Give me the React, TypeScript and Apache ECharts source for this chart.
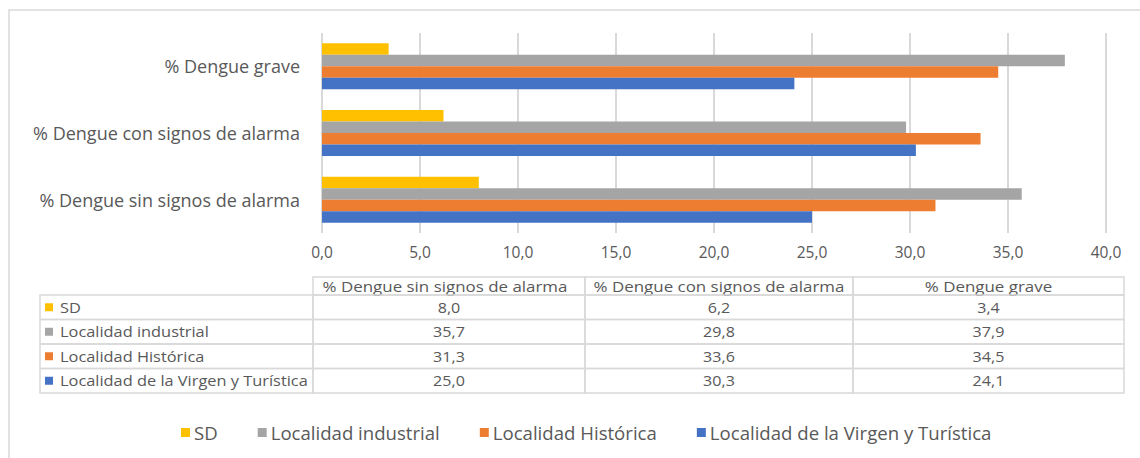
import React, { useEffect, useRef } from "react";
import * as echarts from "echarts";

const categories = [
  "% Dengue sin signos de alarma",
  "% Dengue con signos de alarma",
  "% Dengue grave",
];
const seriesNames = [
  "SD",
  "Localidad industrial",
  "Localidad Histórica",
  "Localidad de la Virgen y Turística",
];
const sdValues = [8.0, 6.2, 3.4];
const industrialValues = [35.7, 29.8, 37.9];
const historicaValues = [31.3, 33.6, 34.5];
const virgenValues = [25.0, 30.3, 24.1];
const colors = ["#FFC000", "#A5A5A5", "#ED7D31", "#4472C4"];

const allValues = [sdValues, industrialValues, historicaValues, virgenValues];

const FONT = "Open Sans";
const TXT = "#595959";
const BORDER = "#d9d9d9";

const fmt = (v: number) => v.toFixed(1).replace(".", ",");

export default function App() {
  const ref = useRef<HTMLDivElement>(null);
  useEffect(() => {
    document.body.style.margin = "0";
    const chart = echarts.init(ref.current!, null, { renderer: "svg" });

    const colX = [40, 313, 585, 853, 1124];
    const headerTop = 277;
    const headerBottom = 295;
    const rowH = 24.5;
    const graphics: any[] = [];
    graphics.push({
      type: "rect",
      shape: { x: 9, y: 10, width: 1160, height: 470 },
      style: { fill: "none", stroke: BORDER, lineWidth: 1.5 },
      silent: true,
    });
    for (let c = 1; c < 4; c++) {
      graphics.push({
        type: "rect",
        shape: { x: colX[c], y: headerTop, width: colX[c + 1] - colX[c], height: headerBottom - headerTop },
        style: { fill: "none", stroke: BORDER, lineWidth: 1.5 },
      });
      graphics.push({
        type: "text",
        x: (colX[c] + colX[c + 1]) / 2 - (c === 1 ? 4 : 0),
        y: (headerTop + headerBottom) / 2 + 0.5,
        scaleX: 1.21,
        style: {
          text: categories[c - 1],
          fill: TXT,
          font: `14px "${FONT}"`,
          align: "center",
          verticalAlign: "middle",
        },
      });
    }
    for (let r = 0; r < 4; r++) {
      const y0 = headerBottom + r * rowH;
      for (let c = 0; c < 4; c++) {
        graphics.push({
          type: "rect",
          shape: { x: colX[c], y: y0, width: colX[c + 1] - colX[c], height: rowH },
          style: { fill: "none", stroke: BORDER, lineWidth: 1.5 },
        });
      }
      graphics.push({
        type: "rect",
        shape: { x: 45, y: y0 + rowH / 2 - 4, width: 8, height: 8 },
        style: { fill: colors[r] },
      });
      graphics.push({
        type: "text",
        x: 60,
        y: y0 + rowH / 2,
        scaleX: 1.17,
        style: {
          text: seriesNames[r],
          fill: TXT,
          font: `14px "${FONT}"`,
          align: "left",
          verticalAlign: "middle",
        },
      });
      for (let c = 1; c < 4; c++) {
        graphics.push({
          type: "text",
          x: (colX[c] + colX[c + 1]) / 2,
          y: y0 + rowH / 2,
          scaleX: 1.15,
          style: {
            text: fmt(allValues[r][c - 1]),
            fill: TXT,
            font: `14px "${FONT}"`,
            align: "center",
            verticalAlign: "middle",
          },
        });
      }
    }

    chart.setOption({
      animation: false,
      backgroundColor: "#ffffff",
      grid: { left: 322, right: 34, top: 33, bottom: 225, containLabel: false },
      legend: {
        bottom: 11,
        left: 176,
        icon: "rect",
        itemWidth: 9,
        itemHeight: 9,
        itemGap: 40,
        textStyle: { color: TXT, fontSize: 18.6, fontFamily: FONT, padding: [0, 0, 0, -1] },
        data: seriesNames,
      },
      xAxis: {
        type: "value",
        min: 0,
        max: 40,
        interval: 5,
        axisLine: { show: false },
        axisTick: { show: false },
        splitLine: { lineStyle: { color: BORDER, width: 2 } },
        axisLabel: {
          color: TXT,
          fontSize: 15.5,
          fontFamily: FONT,
          margin: 11,
          formatter: (v: number) => fmt(v),
        },
      },
      yAxis: {
        type: "category",
        data: categories,
        axisLine: { show: false },
        axisTick: { show: false },
        axisLabel: { color: TXT, fontSize: 18, fontFamily: FONT, margin: 22 },
      },
      series: seriesNames.map((name, i) => ({
        name,
        type: "bar",
        data: allValues[i],
        itemStyle: { color: colors[i] },
        barGap: "0%",
        barCategoryGap: "31%",
      })),
      graphic: graphics,
    });
    return () => chart.dispose();
  }, []);
  return <div ref={ref} style={{ width: 1140, height: 458 }} />;
}
